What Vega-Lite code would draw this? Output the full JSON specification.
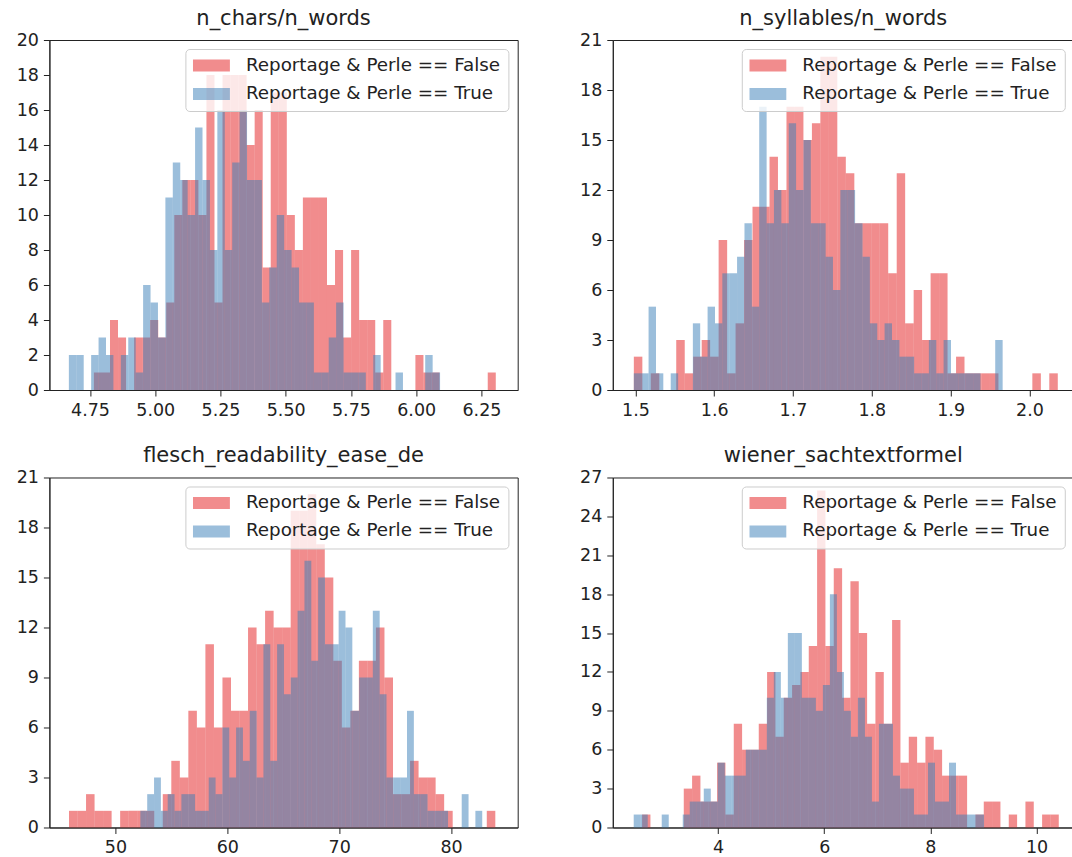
{
"$schema": "https://vega.github.io/schema/vega-lite/v6.json",
"background": "white",
"padding": {"left": 15.4, "top": 7, "right": 0, "bottom": 0},
"config": {
  "font": "DejaVu Sans",
  "view": {"stroke": "#222222", "strokeWidth": 1},
  "axis": {"grid": false, "domainColor": "#222222", "tickColor": "#222222", "labelColor": "#222222", "labelFont": "DejaVu Sans", "labelFontSize": 17.5, "tickSize": 6, "labelPadding": 5, "domainWidth": 1, "tickWidth": 1, "labelFlush": false},
  "title": {"font": "DejaVu Sans", "fontSize": 21, "fontWeight": "normal", "color": "#222222", "offset": 2, "anchor": "middle"},
  "legend": {"title": null, "orient": "top-right", "offset": 9, "symbolType": "M-1,-0.33H1V0.33H-1Z", "symbolSize": 1369, "symbolOpacity": 0.5, "symbolStrokeWidth": 0, "labelFontSize": 18.3, "labelFont": "DejaVu Sans", "labelColor": "#222222", "labelOffset": 16, "clipHeight": 18, "rowPadding": 9.5, "padding": 7.5, "strokeColor": "#cccccc", "fillColor": "rgba(255,255,255,0.8)", "cornerRadius": 4, "labelLimit": 400}
},
"data": {"values": [
{"panel":"p1","group":"False","start":4.765,"end":4.7958,"count":1},
{"panel":"p1","group":"False","start":4.7958,"end":4.8266,"count":1},
{"panel":"p1","group":"False","start":4.8266,"end":4.8574,"count":4},
{"panel":"p1","group":"False","start":4.8574,"end":4.8882,"count":3},
{"panel":"p1","group":"False","start":4.919,"end":4.9498,"count":3},
{"panel":"p1","group":"False","start":4.9498,"end":4.9806,"count":3},
{"panel":"p1","group":"False","start":4.9806,"end":5.0114,"count":4},
{"panel":"p1","group":"False","start":5.0114,"end":5.0422,"count":3},
{"panel":"p1","group":"False","start":5.0422,"end":5.073,"count":5},
{"panel":"p1","group":"False","start":5.073,"end":5.1038,"count":10},
{"panel":"p1","group":"False","start":5.1038,"end":5.1346,"count":12},
{"panel":"p1","group":"False","start":5.1346,"end":5.1654,"count":12},
{"panel":"p1","group":"False","start":5.1654,"end":5.1962,"count":10},
{"panel":"p1","group":"False","start":5.1962,"end":5.227,"count":18},
{"panel":"p1","group":"False","start":5.227,"end":5.2578,"count":5},
{"panel":"p1","group":"False","start":5.2578,"end":5.2886,"count":18},
{"panel":"p1","group":"False","start":5.2886,"end":5.3194,"count":18},
{"panel":"p1","group":"False","start":5.3194,"end":5.3502,"count":18},
{"panel":"p1","group":"False","start":5.3502,"end":5.381,"count":14},
{"panel":"p1","group":"False","start":5.381,"end":5.4118,"count":16},
{"panel":"p1","group":"False","start":5.4118,"end":5.4426,"count":7},
{"panel":"p1","group":"False","start":5.4426,"end":5.4734,"count":17},
{"panel":"p1","group":"False","start":5.4734,"end":5.5042,"count":17},
{"panel":"p1","group":"False","start":5.5042,"end":5.535,"count":10},
{"panel":"p1","group":"False","start":5.535,"end":5.5658,"count":8},
{"panel":"p1","group":"False","start":5.5658,"end":5.5966,"count":11},
{"panel":"p1","group":"False","start":5.5966,"end":5.6274,"count":11},
{"panel":"p1","group":"False","start":5.6274,"end":5.6582,"count":11},
{"panel":"p1","group":"False","start":5.6582,"end":5.689,"count":6},
{"panel":"p1","group":"False","start":5.689,"end":5.7198,"count":8},
{"panel":"p1","group":"False","start":5.7198,"end":5.7506,"count":3},
{"panel":"p1","group":"False","start":5.7506,"end":5.7814,"count":8},
{"panel":"p1","group":"False","start":5.7814,"end":5.8122,"count":4},
{"panel":"p1","group":"False","start":5.8122,"end":5.843,"count":4},
{"panel":"p1","group":"False","start":5.843,"end":5.8738,"count":1},
{"panel":"p1","group":"False","start":5.8738,"end":5.9046,"count":4},
{"panel":"p1","group":"False","start":5.997,"end":6.0278,"count":2},
{"panel":"p1","group":"False","start":6.0278,"end":6.0586,"count":1},
{"panel":"p1","group":"False","start":6.0586,"end":6.0894,"count":1},
{"panel":"p1","group":"False","start":6.2742,"end":6.305,"count":1},
{"panel":"p1","group":"True","start":4.669,"end":4.6975,"count":2},
{"panel":"p1","group":"True","start":4.6975,"end":4.7259,"count":2},
{"panel":"p1","group":"True","start":4.7544,"end":4.7828,"count":2},
{"panel":"p1","group":"True","start":4.7828,"end":4.8113,"count":3},
{"panel":"p1","group":"True","start":4.8113,"end":4.8397,"count":2},
{"panel":"p1","group":"True","start":4.8682,"end":4.8966,"count":2},
{"panel":"p1","group":"True","start":4.8966,"end":4.9251,"count":3},
{"panel":"p1","group":"True","start":4.9251,"end":4.9535,"count":1},
{"panel":"p1","group":"True","start":4.9535,"end":4.982,"count":6},
{"panel":"p1","group":"True","start":4.982,"end":5.0104,"count":5},
{"panel":"p1","group":"True","start":5.0104,"end":5.0389,"count":3},
{"panel":"p1","group":"True","start":5.0389,"end":5.0673,"count":11},
{"panel":"p1","group":"True","start":5.0673,"end":5.0958,"count":13},
{"panel":"p1","group":"True","start":5.0958,"end":5.1242,"count":12},
{"panel":"p1","group":"True","start":5.1242,"end":5.1527,"count":10},
{"panel":"p1","group":"True","start":5.1527,"end":5.1811,"count":15},
{"panel":"p1","group":"True","start":5.1811,"end":5.2096,"count":12},
{"panel":"p1","group":"True","start":5.2096,"end":5.238,"count":8},
{"panel":"p1","group":"True","start":5.238,"end":5.2665,"count":16},
{"panel":"p1","group":"True","start":5.2665,"end":5.2949,"count":8},
{"panel":"p1","group":"True","start":5.2949,"end":5.3234,"count":13},
{"panel":"p1","group":"True","start":5.3234,"end":5.3518,"count":16},
{"panel":"p1","group":"True","start":5.3518,"end":5.3803,"count":12},
{"panel":"p1","group":"True","start":5.3803,"end":5.4087,"count":12},
{"panel":"p1","group":"True","start":5.4087,"end":5.4372,"count":5},
{"panel":"p1","group":"True","start":5.4372,"end":5.4656,"count":7},
{"panel":"p1","group":"True","start":5.4656,"end":5.4941,"count":10},
{"panel":"p1","group":"True","start":5.4941,"end":5.5225,"count":8},
{"panel":"p1","group":"True","start":5.5225,"end":5.551,"count":7},
{"panel":"p1","group":"True","start":5.551,"end":5.5794,"count":5},
{"panel":"p1","group":"True","start":5.5794,"end":5.6079,"count":5},
{"panel":"p1","group":"True","start":5.6079,"end":5.6363,"count":1},
{"panel":"p1","group":"True","start":5.6363,"end":5.6648,"count":1},
{"panel":"p1","group":"True","start":5.6648,"end":5.6932,"count":3},
{"panel":"p1","group":"True","start":5.6932,"end":5.7217,"count":5},
{"panel":"p1","group":"True","start":5.7217,"end":5.7501,"count":1},
{"panel":"p1","group":"True","start":5.7501,"end":5.7786,"count":1},
{"panel":"p1","group":"True","start":5.7786,"end":5.807,"count":1},
{"panel":"p1","group":"True","start":5.8355,"end":5.8639,"count":2},
{"panel":"p1","group":"True","start":5.9208,"end":5.9493,"count":1},
{"panel":"p1","group":"True","start":6.0346,"end":6.0631,"count":2},
{"panel":"p1","group":"True","start":6.0631,"end":6.0915,"count":1},
{"panel":"p2","group":"False","start":1.498,"end":1.5088,"count":2},
{"panel":"p2","group":"False","start":1.5195,"end":1.5303,"count":1},
{"panel":"p2","group":"False","start":1.5518,"end":1.5626,"count":3},
{"panel":"p2","group":"False","start":1.5626,"end":1.5733,"count":1},
{"panel":"p2","group":"False","start":1.5733,"end":1.5841,"count":2},
{"panel":"p2","group":"False","start":1.5841,"end":1.5948,"count":3},
{"panel":"p2","group":"False","start":1.5948,"end":1.6056,"count":2},
{"panel":"p2","group":"False","start":1.6056,"end":1.6164,"count":9},
{"panel":"p2","group":"False","start":1.6164,"end":1.6271,"count":1},
{"panel":"p2","group":"False","start":1.6271,"end":1.6379,"count":4},
{"panel":"p2","group":"False","start":1.6379,"end":1.6486,"count":9},
{"panel":"p2","group":"False","start":1.6486,"end":1.6594,"count":11},
{"panel":"p2","group":"False","start":1.6594,"end":1.6702,"count":11},
{"panel":"p2","group":"False","start":1.6702,"end":1.6809,"count":14},
{"panel":"p2","group":"False","start":1.6809,"end":1.6917,"count":12},
{"panel":"p2","group":"False","start":1.6917,"end":1.7024,"count":17},
{"panel":"p2","group":"False","start":1.7024,"end":1.7132,"count":17},
{"panel":"p2","group":"False","start":1.7132,"end":1.724,"count":15},
{"panel":"p2","group":"False","start":1.724,"end":1.7347,"count":16},
{"panel":"p2","group":"False","start":1.7347,"end":1.7455,"count":20},
{"panel":"p2","group":"False","start":1.7455,"end":1.7562,"count":20},
{"panel":"p2","group":"False","start":1.7562,"end":1.767,"count":14},
{"panel":"p2","group":"False","start":1.767,"end":1.7778,"count":13},
{"panel":"p2","group":"False","start":1.7778,"end":1.7885,"count":10},
{"panel":"p2","group":"False","start":1.7885,"end":1.7993,"count":10},
{"panel":"p2","group":"False","start":1.7993,"end":1.81,"count":10},
{"panel":"p2","group":"False","start":1.81,"end":1.8208,"count":10},
{"panel":"p2","group":"False","start":1.8208,"end":1.8316,"count":7},
{"panel":"p2","group":"False","start":1.8316,"end":1.8423,"count":13},
{"panel":"p2","group":"False","start":1.8423,"end":1.8531,"count":4},
{"panel":"p2","group":"False","start":1.8531,"end":1.8638,"count":6},
{"panel":"p2","group":"False","start":1.8638,"end":1.8746,"count":3},
{"panel":"p2","group":"False","start":1.8746,"end":1.8854,"count":7},
{"panel":"p2","group":"False","start":1.8854,"end":1.8961,"count":7},
{"panel":"p2","group":"False","start":1.8961,"end":1.9069,"count":1},
{"panel":"p2","group":"False","start":1.9069,"end":1.9176,"count":2},
{"panel":"p2","group":"False","start":1.9176,"end":1.9284,"count":1},
{"panel":"p2","group":"False","start":1.9284,"end":1.9392,"count":1},
{"panel":"p2","group":"False","start":1.9392,"end":1.9499,"count":1},
{"panel":"p2","group":"False","start":1.9499,"end":1.9607,"count":1},
{"panel":"p2","group":"False","start":2.0037,"end":2.0145,"count":1},
{"panel":"p2","group":"False","start":2.0252,"end":2.036,"count":1},
{"panel":"p2","group":"True","start":1.498,"end":1.5074,"count":1},
{"panel":"p2","group":"True","start":1.5074,"end":1.5167,"count":1},
{"panel":"p2","group":"True","start":1.5167,"end":1.5261,"count":5},
{"panel":"p2","group":"True","start":1.5261,"end":1.5354,"count":1},
{"panel":"p2","group":"True","start":1.5448,"end":1.5542,"count":1},
{"panel":"p2","group":"True","start":1.5729,"end":1.5822,"count":4},
{"panel":"p2","group":"True","start":1.5822,"end":1.5916,"count":2},
{"panel":"p2","group":"True","start":1.5916,"end":1.601,"count":5},
{"panel":"p2","group":"True","start":1.601,"end":1.6103,"count":4},
{"panel":"p2","group":"True","start":1.6103,"end":1.6197,"count":7},
{"panel":"p2","group":"True","start":1.6197,"end":1.629,"count":7},
{"panel":"p2","group":"True","start":1.629,"end":1.6384,"count":8},
{"panel":"p2","group":"True","start":1.6384,"end":1.6478,"count":10},
{"panel":"p2","group":"True","start":1.6478,"end":1.6571,"count":5},
{"panel":"p2","group":"True","start":1.6571,"end":1.6665,"count":17},
{"panel":"p2","group":"True","start":1.6665,"end":1.6758,"count":10},
{"panel":"p2","group":"True","start":1.6758,"end":1.6852,"count":12},
{"panel":"p2","group":"True","start":1.6852,"end":1.6946,"count":10},
{"panel":"p2","group":"True","start":1.6946,"end":1.7039,"count":16},
{"panel":"p2","group":"True","start":1.7039,"end":1.7133,"count":12},
{"panel":"p2","group":"True","start":1.7133,"end":1.7226,"count":15},
{"panel":"p2","group":"True","start":1.7226,"end":1.732,"count":10},
{"panel":"p2","group":"True","start":1.732,"end":1.7414,"count":10},
{"panel":"p2","group":"True","start":1.7414,"end":1.7507,"count":8},
{"panel":"p2","group":"True","start":1.7507,"end":1.7601,"count":6},
{"panel":"p2","group":"True","start":1.7601,"end":1.7694,"count":12},
{"panel":"p2","group":"True","start":1.7694,"end":1.7788,"count":12},
{"panel":"p2","group":"True","start":1.7788,"end":1.7882,"count":10},
{"panel":"p2","group":"True","start":1.7882,"end":1.7975,"count":8},
{"panel":"p2","group":"True","start":1.7975,"end":1.8069,"count":4},
{"panel":"p2","group":"True","start":1.8069,"end":1.8162,"count":3},
{"panel":"p2","group":"True","start":1.8162,"end":1.8256,"count":4},
{"panel":"p2","group":"True","start":1.8256,"end":1.835,"count":3},
{"panel":"p2","group":"True","start":1.835,"end":1.8443,"count":2},
{"panel":"p2","group":"True","start":1.8443,"end":1.8537,"count":2},
{"panel":"p2","group":"True","start":1.8537,"end":1.863,"count":1},
{"panel":"p2","group":"True","start":1.863,"end":1.8724,"count":1},
{"panel":"p2","group":"True","start":1.8724,"end":1.8818,"count":3},
{"panel":"p2","group":"True","start":1.8818,"end":1.8911,"count":1},
{"panel":"p2","group":"True","start":1.8911,"end":1.9005,"count":3},
{"panel":"p2","group":"True","start":1.9005,"end":1.9098,"count":1},
{"panel":"p2","group":"True","start":1.9098,"end":1.9192,"count":1},
{"panel":"p2","group":"True","start":1.9192,"end":1.9286,"count":1},
{"panel":"p2","group":"True","start":1.9286,"end":1.9379,"count":1},
{"panel":"p2","group":"True","start":1.9566,"end":1.966,"count":3},
{"panel":"p3","group":"False","start":45.85,"end":46.612,"count":1},
{"panel":"p3","group":"False","start":46.612,"end":47.374,"count":1},
{"panel":"p3","group":"False","start":47.374,"end":48.136,"count":2},
{"panel":"p3","group":"False","start":48.136,"end":48.898,"count":1},
{"panel":"p3","group":"False","start":48.898,"end":49.66,"count":1},
{"panel":"p3","group":"False","start":50.422,"end":51.184,"count":1},
{"panel":"p3","group":"False","start":51.184,"end":51.946,"count":1},
{"panel":"p3","group":"False","start":51.946,"end":52.708,"count":1},
{"panel":"p3","group":"False","start":52.708,"end":53.47,"count":1},
{"panel":"p3","group":"False","start":54.232,"end":54.994,"count":2},
{"panel":"p3","group":"False","start":54.994,"end":55.756,"count":4},
{"panel":"p3","group":"False","start":55.756,"end":56.518,"count":3},
{"panel":"p3","group":"False","start":56.518,"end":57.28,"count":7},
{"panel":"p3","group":"False","start":57.28,"end":58.042,"count":6},
{"panel":"p3","group":"False","start":58.042,"end":58.804,"count":11},
{"panel":"p3","group":"False","start":58.804,"end":59.566,"count":6},
{"panel":"p3","group":"False","start":59.566,"end":60.328,"count":9},
{"panel":"p3","group":"False","start":60.328,"end":61.09,"count":7},
{"panel":"p3","group":"False","start":61.09,"end":61.852,"count":7},
{"panel":"p3","group":"False","start":61.852,"end":62.614,"count":12},
{"panel":"p3","group":"False","start":62.614,"end":63.376,"count":11},
{"panel":"p3","group":"False","start":63.376,"end":64.138,"count":13},
{"panel":"p3","group":"False","start":64.138,"end":64.9,"count":12},
{"panel":"p3","group":"False","start":64.9,"end":65.662,"count":12},
{"panel":"p3","group":"False","start":65.662,"end":66.424,"count":19},
{"panel":"p3","group":"False","start":66.424,"end":67.186,"count":19},
{"panel":"p3","group":"False","start":67.186,"end":67.948,"count":20},
{"panel":"p3","group":"False","start":67.948,"end":68.71,"count":17},
{"panel":"p3","group":"False","start":68.71,"end":69.472,"count":15},
{"panel":"p3","group":"False","start":69.472,"end":70.234,"count":10},
{"panel":"p3","group":"False","start":70.234,"end":70.996,"count":6},
{"panel":"p3","group":"False","start":70.996,"end":71.758,"count":7},
{"panel":"p3","group":"False","start":71.758,"end":72.52,"count":10},
{"panel":"p3","group":"False","start":72.52,"end":73.282,"count":10},
{"panel":"p3","group":"False","start":73.282,"end":74.044,"count":12},
{"panel":"p3","group":"False","start":74.044,"end":74.806,"count":9},
{"panel":"p3","group":"False","start":74.806,"end":75.568,"count":2},
{"panel":"p3","group":"False","start":75.568,"end":76.33,"count":2},
{"panel":"p3","group":"False","start":76.33,"end":77.092,"count":4},
{"panel":"p3","group":"False","start":77.092,"end":77.854,"count":3},
{"panel":"p3","group":"False","start":77.854,"end":78.616,"count":3},
{"panel":"p3","group":"False","start":78.616,"end":79.378,"count":2},
{"panel":"p3","group":"False","start":79.378,"end":80.14,"count":1},
{"panel":"p3","group":"False","start":83.188,"end":83.95,"count":1},
{"panel":"p3","group":"True","start":52.23,"end":52.841,"count":1},
{"panel":"p3","group":"True","start":52.841,"end":53.452,"count":2},
{"panel":"p3","group":"True","start":53.452,"end":54.063,"count":3},
{"panel":"p3","group":"True","start":54.063,"end":54.674,"count":1},
{"panel":"p3","group":"True","start":54.674,"end":55.285,"count":2},
{"panel":"p3","group":"True","start":55.285,"end":55.896,"count":1},
{"panel":"p3","group":"True","start":55.896,"end":56.507,"count":2},
{"panel":"p3","group":"True","start":56.507,"end":57.118,"count":2},
{"panel":"p3","group":"True","start":57.118,"end":57.729,"count":1},
{"panel":"p3","group":"True","start":57.729,"end":58.34,"count":1},
{"panel":"p3","group":"True","start":58.34,"end":58.951,"count":3},
{"panel":"p3","group":"True","start":58.951,"end":59.562,"count":2},
{"panel":"p3","group":"True","start":59.562,"end":60.173,"count":6},
{"panel":"p3","group":"True","start":60.173,"end":60.784,"count":3},
{"panel":"p3","group":"True","start":60.784,"end":61.395,"count":6},
{"panel":"p3","group":"True","start":61.395,"end":62.006,"count":4},
{"panel":"p3","group":"True","start":62.006,"end":62.617,"count":7},
{"panel":"p3","group":"True","start":62.617,"end":63.228,"count":3},
{"panel":"p3","group":"True","start":63.228,"end":63.839,"count":11},
{"panel":"p3","group":"True","start":63.839,"end":64.45,"count":4},
{"panel":"p3","group":"True","start":64.45,"end":65.061,"count":11},
{"panel":"p3","group":"True","start":65.061,"end":65.672,"count":8},
{"panel":"p3","group":"True","start":65.672,"end":66.283,"count":9},
{"panel":"p3","group":"True","start":66.283,"end":66.894,"count":13},
{"panel":"p3","group":"True","start":66.894,"end":67.505,"count":16},
{"panel":"p3","group":"True","start":67.505,"end":68.116,"count":10},
{"panel":"p3","group":"True","start":68.116,"end":68.727,"count":15},
{"panel":"p3","group":"True","start":68.727,"end":69.338,"count":11},
{"panel":"p3","group":"True","start":69.338,"end":69.949,"count":11},
{"panel":"p3","group":"True","start":69.949,"end":70.56,"count":13},
{"panel":"p3","group":"True","start":70.56,"end":71.171,"count":12},
{"panel":"p3","group":"True","start":71.171,"end":71.782,"count":7},
{"panel":"p3","group":"True","start":71.782,"end":72.393,"count":9},
{"panel":"p3","group":"True","start":72.393,"end":73.004,"count":9},
{"panel":"p3","group":"True","start":73.004,"end":73.615,"count":13},
{"panel":"p3","group":"True","start":73.615,"end":74.226,"count":8},
{"panel":"p3","group":"True","start":74.226,"end":74.837,"count":3},
{"panel":"p3","group":"True","start":74.837,"end":75.448,"count":3},
{"panel":"p3","group":"True","start":75.448,"end":76.059,"count":3},
{"panel":"p3","group":"True","start":76.059,"end":76.67,"count":7},
{"panel":"p3","group":"True","start":76.67,"end":77.281,"count":2},
{"panel":"p3","group":"True","start":77.281,"end":77.892,"count":2},
{"panel":"p3","group":"True","start":77.892,"end":78.503,"count":1},
{"panel":"p3","group":"True","start":78.503,"end":79.114,"count":1},
{"panel":"p3","group":"True","start":79.114,"end":79.725,"count":1},
{"panel":"p3","group":"True","start":80.947,"end":81.558,"count":2},
{"panel":"p3","group":"True","start":82.169,"end":82.78,"count":1},
{"panel":"p4","group":"False","start":2.568,"end":2.725,"count":1},
{"panel":"p4","group":"False","start":3.353,"end":3.51,"count":3},
{"panel":"p4","group":"False","start":3.51,"end":3.667,"count":4},
{"panel":"p4","group":"False","start":3.667,"end":3.824,"count":2},
{"panel":"p4","group":"False","start":3.824,"end":3.981,"count":2},
{"panel":"p4","group":"False","start":3.981,"end":4.138,"count":5},
{"panel":"p4","group":"False","start":4.138,"end":4.295,"count":1},
{"panel":"p4","group":"False","start":4.295,"end":4.452,"count":8},
{"panel":"p4","group":"False","start":4.452,"end":4.609,"count":6},
{"panel":"p4","group":"False","start":4.609,"end":4.766,"count":6},
{"panel":"p4","group":"False","start":4.766,"end":4.923,"count":8},
{"panel":"p4","group":"False","start":4.923,"end":5.08,"count":12},
{"panel":"p4","group":"False","start":5.08,"end":5.237,"count":7},
{"panel":"p4","group":"False","start":5.237,"end":5.394,"count":10},
{"panel":"p4","group":"False","start":5.394,"end":5.551,"count":11},
{"panel":"p4","group":"False","start":5.551,"end":5.708,"count":12},
{"panel":"p4","group":"False","start":5.708,"end":5.865,"count":14},
{"panel":"p4","group":"False","start":5.865,"end":6.022,"count":26},
{"panel":"p4","group":"False","start":6.022,"end":6.179,"count":14},
{"panel":"p4","group":"False","start":6.179,"end":6.336,"count":20},
{"panel":"p4","group":"False","start":6.336,"end":6.493,"count":10},
{"panel":"p4","group":"False","start":6.493,"end":6.65,"count":19},
{"panel":"p4","group":"False","start":6.65,"end":6.807,"count":15},
{"panel":"p4","group":"False","start":6.807,"end":6.964,"count":8},
{"panel":"p4","group":"False","start":6.964,"end":7.121,"count":12},
{"panel":"p4","group":"False","start":7.121,"end":7.278,"count":8},
{"panel":"p4","group":"False","start":7.278,"end":7.435,"count":16},
{"panel":"p4","group":"False","start":7.435,"end":7.592,"count":5},
{"panel":"p4","group":"False","start":7.592,"end":7.749,"count":7},
{"panel":"p4","group":"False","start":7.749,"end":7.906,"count":5},
{"panel":"p4","group":"False","start":7.906,"end":8.063,"count":7},
{"panel":"p4","group":"False","start":8.063,"end":8.22,"count":6},
{"panel":"p4","group":"False","start":8.22,"end":8.377,"count":4},
{"panel":"p4","group":"False","start":8.377,"end":8.534,"count":4},
{"panel":"p4","group":"False","start":8.534,"end":8.691,"count":4},
{"panel":"p4","group":"False","start":8.848,"end":9.005,"count":1},
{"panel":"p4","group":"False","start":9.005,"end":9.162,"count":2},
{"panel":"p4","group":"False","start":9.162,"end":9.319,"count":2},
{"panel":"p4","group":"False","start":9.476,"end":9.633,"count":1},
{"panel":"p4","group":"False","start":9.79,"end":9.947,"count":2},
{"panel":"p4","group":"False","start":10.104,"end":10.261,"count":1},
{"panel":"p4","group":"False","start":10.261,"end":10.418,"count":1},
{"panel":"p4","group":"True","start":2.41,"end":2.542,"count":1},
{"panel":"p4","group":"True","start":2.542,"end":2.674,"count":1},
{"panel":"p4","group":"True","start":2.938,"end":3.07,"count":1},
{"panel":"p4","group":"True","start":3.334,"end":3.466,"count":1},
{"panel":"p4","group":"True","start":3.466,"end":3.598,"count":2},
{"panel":"p4","group":"True","start":3.598,"end":3.73,"count":2},
{"panel":"p4","group":"True","start":3.73,"end":3.862,"count":3},
{"panel":"p4","group":"True","start":3.862,"end":3.994,"count":2},
{"panel":"p4","group":"True","start":3.994,"end":4.126,"count":5},
{"panel":"p4","group":"True","start":4.126,"end":4.258,"count":4},
{"panel":"p4","group":"True","start":4.258,"end":4.39,"count":4},
{"panel":"p4","group":"True","start":4.39,"end":4.522,"count":4},
{"panel":"p4","group":"True","start":4.522,"end":4.654,"count":6},
{"panel":"p4","group":"True","start":4.654,"end":4.786,"count":6},
{"panel":"p4","group":"True","start":4.786,"end":4.918,"count":6},
{"panel":"p4","group":"True","start":4.918,"end":5.05,"count":10},
{"panel":"p4","group":"True","start":5.05,"end":5.182,"count":12},
{"panel":"p4","group":"True","start":5.182,"end":5.314,"count":10},
{"panel":"p4","group":"True","start":5.314,"end":5.446,"count":15},
{"panel":"p4","group":"True","start":5.446,"end":5.578,"count":15},
{"panel":"p4","group":"True","start":5.578,"end":5.71,"count":10},
{"panel":"p4","group":"True","start":5.71,"end":5.842,"count":10},
{"panel":"p4","group":"True","start":5.842,"end":5.974,"count":9},
{"panel":"p4","group":"True","start":5.974,"end":6.106,"count":11},
{"panel":"p4","group":"True","start":6.106,"end":6.238,"count":18},
{"panel":"p4","group":"True","start":6.238,"end":6.37,"count":12},
{"panel":"p4","group":"True","start":6.37,"end":6.502,"count":9},
{"panel":"p4","group":"True","start":6.502,"end":6.634,"count":7},
{"panel":"p4","group":"True","start":6.634,"end":6.766,"count":10},
{"panel":"p4","group":"True","start":6.766,"end":6.898,"count":7},
{"panel":"p4","group":"True","start":6.898,"end":7.03,"count":2},
{"panel":"p4","group":"True","start":7.03,"end":7.162,"count":8},
{"panel":"p4","group":"True","start":7.162,"end":7.294,"count":8},
{"panel":"p4","group":"True","start":7.294,"end":7.426,"count":4},
{"panel":"p4","group":"True","start":7.426,"end":7.558,"count":3},
{"panel":"p4","group":"True","start":7.558,"end":7.69,"count":3},
{"panel":"p4","group":"True","start":7.69,"end":7.822,"count":1},
{"panel":"p4","group":"True","start":7.822,"end":7.954,"count":1},
{"panel":"p4","group":"True","start":7.954,"end":8.086,"count":5},
{"panel":"p4","group":"True","start":8.086,"end":8.218,"count":2},
{"panel":"p4","group":"True","start":8.218,"end":8.35,"count":2},
{"panel":"p4","group":"True","start":8.35,"end":8.482,"count":5},
{"panel":"p4","group":"True","start":8.482,"end":8.614,"count":1},
{"panel":"p4","group":"True","start":8.614,"end":8.746,"count":1},
{"panel":"p4","group":"True","start":8.746,"end":8.878,"count":1},
{"panel":"p4","group":"True","start":8.878,"end":9.01,"count":1}
]},
"spacing": 25.5,
"resolve": {"scale": {"color": "independent"}, "legend": {"color": "independent"}},
"vconcat": [
 {"spacing": 60.4,
  "resolve": {"scale": {"color": "independent"}, "legend": {"color": "independent"}},
  "hconcat": [
  {"width": 468.3, "height": 350,
   "title": {"text": "n_chars/n_words"},
   "transform": [{"filter": "datum.panel == 'p1'"}],
   "mark": {"type": "rect", "opacity": 0.5},
   "encoding": {
     "x": {"field": "start", "type": "quantitative", "scale": {"domain": [4.5944, 6.389], "nice": false, "zero": false}, "axis": {"title": null, "values": [4.75, 5, 5.25, 5.5, 5.75, 6, 6.25], "format": ".2f"}},
     "x2": {"field": "end"},
     "y": {"field": "count", "type": "quantitative", "scale": {"domain": [0, 20], "nice": false}, "axis": {"title": null, "values": [0, 2, 4, 6, 8, 10, 12, 14, 16, 18, 20]}},
     "y2": {"datum": 0},
     "color": {"field": "group", "type": "nominal", "scale": {"domain": ["False", "True"], "range": ["#e41a1c", "#377eb8"]}, "legend": {"labelExpr": "'Reportage & Perle == ' + datum.label"}}
   }},
  {"width": 461, "height": 350,
   "title": {"text": "n_syllables/n_words"},
   "transform": [{"filter": "datum.panel == 'p2'"}],
   "mark": {"type": "rect", "opacity": 0.5},
   "encoding": {
     "x": {"field": "start", "type": "quantitative", "scale": {"domain": [1.4713, 2.0563], "nice": false, "zero": false}, "axis": {"title": null, "values": [1.5, 1.6, 1.7, 1.8, 1.9, 2.0], "format": ".1f"}},
     "x2": {"field": "end"},
     "y": {"field": "count", "type": "quantitative", "scale": {"domain": [0, 21], "nice": false}, "axis": {"title": null, "values": [0, 3, 6, 9, 12, 15, 18, 21]}},
     "y2": {"datum": 0},
     "color": {"field": "group", "type": "nominal", "scale": {"domain": ["False", "True"], "range": ["#e41a1c", "#377eb8"]}, "legend": {"labelExpr": "'Reportage & Perle == ' + datum.label"}}
   }}
 ]},
 {"spacing": 60.4,
  "resolve": {"scale": {"color": "independent"}, "legend": {"color": "independent"}},
  "hconcat": [
  {"width": 468.3, "height": 350,
   "title": {"text": "flesch_readability_ease_de"},
   "transform": [{"filter": "datum.panel == 'p3'"}],
   "mark": {"type": "rect", "opacity": 0.5},
   "encoding": {
     "x": {"field": "start", "type": "quantitative", "scale": {"domain": [44.1, 85.95], "nice": false, "zero": false}, "axis": {"title": null, "values": [50, 60, 70, 80], "format": "d"}},
     "x2": {"field": "end"},
     "y": {"field": "count", "type": "quantitative", "scale": {"domain": [0, 21], "nice": false}, "axis": {"title": null, "values": [0, 3, 6, 9, 12, 15, 18, 21]}},
     "y2": {"datum": 0},
     "color": {"field": "group", "type": "nominal", "scale": {"domain": ["False", "True"], "range": ["#e41a1c", "#377eb8"]}, "legend": {"labelExpr": "'Reportage & Perle == ' + datum.label"}}
   }},
  {"width": 461, "height": 350,
   "title": {"text": "wiener_sachtextformel"},
   "transform": [{"filter": "datum.panel == 'p4'"}],
   "mark": {"type": "rect", "opacity": 0.5},
   "encoding": {
     "x": {"field": "start", "type": "quantitative", "scale": {"domain": [2.016, 10.701], "nice": false, "zero": false}, "axis": {"title": null, "values": [4, 6, 8, 10], "format": "d"}},
     "x2": {"field": "end"},
     "y": {"field": "count", "type": "quantitative", "scale": {"domain": [0, 27], "nice": false}, "axis": {"title": null, "values": [0, 3, 6, 9, 12, 15, 18, 21, 24, 27]}},
     "y2": {"datum": 0},
     "color": {"field": "group", "type": "nominal", "scale": {"domain": ["False", "True"], "range": ["#e41a1c", "#377eb8"]}, "legend": {"labelExpr": "'Reportage & Perle == ' + datum.label"}}
   }}
 ]}
]
}
